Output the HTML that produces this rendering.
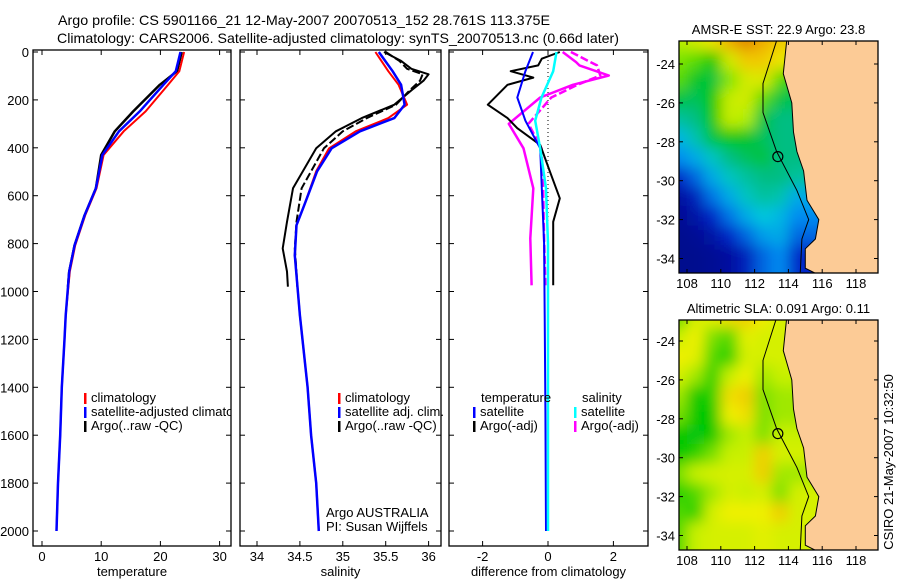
<!DOCTYPE html>
<html><head><meta charset="utf-8">
<style>
html,body{margin:0;padding:0;background:#fff;}
svg{display:block;font-family:"Liberation Sans",sans-serif;}
text{font-size:13px;fill:#000;}
</style></head>
<body>
<svg id="fig" width="900" height="580" viewBox="0 0 900 580" xmlns="http://www.w3.org/2000/svg">
<defs>
<filter id="blur1" x="600" y="-100" width="400" height="800" filterUnits="userSpaceOnUse"><feGaussianBlur stdDeviation="7"/></filter>
<clipPath id="clipMap1"><rect x="679" y="41" width="199" height="232"/></clipPath>
<clipPath id="clipMap2"><rect x="679" y="320" width="199" height="230"/></clipPath>
<clipPath id="clipP1"><rect x="33" y="50" width="198" height="496"/></clipPath>
</defs>
<text x="58" y="25" textLength="492" lengthAdjust="spacingAndGlyphs" style="font-size:14px">Argo profile: CS 5901166_21 12-May-2007 20070513_152 28.761S 113.375E</text>
<text x="57" y="43" textLength="562" lengthAdjust="spacingAndGlyphs" style="font-size:14px">Climatology: CARS2006. Satellite-adjusted climatology: synTS_20070513.nc (0.66d later)</text>
<g id="plots"></g>
<text transform="translate(893,462) rotate(-90)" text-anchor="middle" style="font-size:13px">CSIRO 21-May-2007 10:32:50</text>
</svg>
<script>
// ---------- data ----------
const depthTicks = [0,200,400,600,800,1000,1200,1400,1600,1800,2000];
const tempTicks = [0,10,20,30];
const salTicks = [34,34.5,35,35.5,36];
const diffTicks = [-2,0,2];

const tClimDepth = [0,80,137,248,331,430,569,682,807,917,1100,1200,1400,1600,1800,2000];
const tClim      = [24,23.2,21.3,17.5,13.8,10.4,9.2,7.3,5.6,4.7,4.0,3.8,3.35,3.07,2.7,2.45];
const tSat       = [23.4,22.6,20.5,16.5,13.0,10.2,9.1,7.2,5.5,4.6,4.0,3.8,3.35,3.07,2.7,2.45];
const tArgoDepth = [0,80,137,248,331,430,569,682,807,917,980];
const tArgo      = [23.6,22.8,19.9,15.4,12.3,10.0,9.1,7.2,5.5,4.6,4.4];

const sClimDepth = [0,80,137,220,276,331,402,498,640,723,849,1100,1400,1600,1800,2000];
const sClim      = [35.38,35.53,35.65,35.75,35.53,35.15,34.84,34.69,34.55,34.46,34.44,34.50,34.59,34.63,34.69,34.72];
const sSat       = [35.42,35.58,35.68,35.72,35.6,35.2,34.87,34.70,34.55,34.46,34.44,34.50,34.59,34.63,34.69,34.72];
const sArgoDepth = [0,37,70,93,120,160,220,276,331,402,569,709,820,917,980];
const sArgo      = [35.48,35.68,35.8,36.0,35.94,35.8,35.6,35.22,34.92,34.69,34.42,34.35,34.30,34.35,34.36];
const sArgoAdj   = [35.5,35.66,35.75,35.93,35.9,35.78,35.62,35.28,35.0,34.78,34.52,34.46,34.44,34.46,34.47];

const dTSatDepth = [0,80,190,287,402,569,800,1100,1500,2000];
const dTSat      = [-0.46,-0.69,-0.94,-0.69,-0.24,-0.19,-0.12,-0.1,-0.08,-0.06];
const dSSat      = [0.26,0.16,-0.2,-0.39,-0.24,-0.06,0.0,0.0,0.0,0.0];
const dTArgoDepth= [0,28,56,80,107,137,220,276,318,388,500,611,709,974];
const dTArgo     = [0.36,-0.19,-0.3,-1.14,-0.45,-1.24,-1.84,-1.24,-0.94,-0.24,0.06,0.36,0.16,0.16];
const dSArgoDepth= [0,42,56,98,137,190,300,402,569,778,974];
const dSArgo     = [0.45,0.86,0.96,1.86,0.76,-0.24,-1.2,-0.75,-0.45,-0.54,-0.5];
const dSArgoAdj  = [0.7,1.3,1.5,1.6,0.9,0.1,-0.6,-0.2,-0.15,-0.12,-0.08];

const mapLonTicks = [108,110,112,114,116,118];
const mapLatTicks = [-24,-26,-28,-30,-32,-34];
const sstGrid = [
 [0.65,0.7,0.75,0.85,0.92,0.85,0.8,0.8],
 [0.62,0.6,0.55,0.7,0.8,0.8,0.75,0.7],
 [0.6,0.52,0.5,0.62,0.7,0.72,0.6,0.55],
 [0.5,0.48,0.55,0.68,0.7,0.6,0.5,0.48],
 [0.42,0.45,0.55,0.68,0.65,0.5,0.45,0.45],
 [0.32,0.4,0.5,0.55,0.52,0.48,0.45,0.45],
 [0.25,0.3,0.38,0.45,0.48,0.5,0.45,0.45],
 [0.12,0.2,0.3,0.38,0.42,0.45,0.45,0.42],
 [0.05,0.1,0.22,0.3,0.38,0.42,0.4,0.3],
 [0.03,0.06,0.12,0.22,0.3,0.35,0.32,0.25],
 [0.02,0.03,0.06,0.12,0.2,0.28,0.3,0.2],
 [0.02,0.02,0.03,0.05,0.1,0.2,0.25,0.12]];
const slaGrid = [
 [0.4,0.6,0.65,0.75,0.8,0.7,0.6,0.6],
 [0.55,0.7,0.45,0.4,0.65,0.6,0.6,0.6],
 [0.7,0.65,0.4,0.35,0.6,0.6,0.6,0.6],
 [0.6,0.5,0.35,0.55,0.7,0.5,0.55,0.55],
 [0.5,0.3,0.35,0.75,0.8,0.45,0.5,0.5],
 [0.45,0.3,0.3,0.7,0.75,0.45,0.5,0.5],
 [0.3,0.25,0.3,0.5,0.55,0.45,0.55,0.55],
 [0.3,0.35,0.45,0.55,0.55,0.8,0.6,0.6],
 [0.45,0.55,0.6,0.6,0.6,0.8,0.5,0.5],
 [0.35,0.4,0.5,0.6,0.55,0.6,0.45,0.6],
 [0.4,0.35,0.6,0.7,0.7,0.7,0.8,0.6],
 [0.4,0.55,0.6,0.6,0.6,0.65,0.6,0.6]];
const coastLon = [113.9,113.7,114.2,114.3,114.5,114.9,115.1,115.8,115.6,115.0,115.0,115.7];
const coastLat = [-22.8,-24.5,-26,-27.5,-28.5,-29.5,-31,-32,-33,-33.5,-34.5,-34.8];
const isoLon = [113.3,112.5,112.5,113.3,114.5,115.2,114.8,114.7];
const isoLat = [-22.8,-25,-26.5,-28.5,-30.5,-32,-33,-34.8];
const floatLon = 113.375, floatLat = -28.761;

// ---------- helpers ----------
const NS = "http://www.w3.org/2000/svg";
const root = document.getElementById('plots');
function mk(tag, attrs, parent){const e=document.createElementNS(NS,tag);for(const k in attrs)e.setAttribute(k,attrs[k]);(parent||root).appendChild(e);return e;}

const yTop=50, yBot=546, y0=52, yPerM=0.2395;
const yD = d => y0 + d*yPerM;

function panel(name, x0, x1, xv0, xpx0, pxPerUnit, ticks, title, showDepth){
  const g = mk('g',{});
  
  
  const fx = v => xpx0 + (v - xv0)*pxPerUnit;
  const fr = mk('rect',{x:x0,y:yTop,width:x1-x0,height:yBot-yTop,fill:'none',stroke:'#000','stroke-width':1.3},g);
  
  
  ticks.forEach(t=>{
    const x=fx(t);
    mk('line',{x1:x,x2:x,y1:yBot,y2:yBot-5,stroke:'#000'},g);
    mk('line',{x1:x,x2:x,y1:yTop,y2:yTop+5,stroke:'#000'},g);
    const tl=mk('text',{x:x,y:yBot+15,'text-anchor':'middle'},g); tl.textContent=t;
    
    
  });
  depthTicks.forEach(d=>{
    const y=yD(d);
    mk('line',{x1:x0,x2:x0+5,y1:y,y2:y,stroke:'#000'},g);
    mk('line',{x1:x1,x2:x1-5,y1:y,y2:y,stroke:'#000'},g);
    if(showDepth){const tl=mk('text',{x:x0-4,y:y+5,'text-anchor':'end'},g); tl.textContent=d;
      
      }
  });
  const at=mk('text',{x:(x0+x1)/2,y:576,'text-anchor':'middle'},g); at.textContent=title;
  
  
  return {g,fx};
}
function series(p, vals, depths, color, w, nm, dash){
  const pts = vals.map((v,i)=>p.fx(v).toFixed(1)+','+yD(depths[i]).toFixed(1)).join(' ');
  const e = mk('polyline',{points:pts,fill:'none',stroke:color,'stroke-width':w,'stroke-linejoin':'round'},p.g);
  if(dash) e.setAttribute('stroke-dasharray',dash);
  
  
}
function legend(g, x, y, color, label, nm){
  mk('rect',{x:x,y:y-9,width:2.5,height:11,fill:color},g);
  const t=mk('text',{x:x+7,y:y},g); t.textContent=label;
  
  
}

// Panel 1 temperature
const p1 = panel('temperature-panel',33,231,0,42,5.92,tempTicks,'temperature',true);
series(p1,tArgo,tArgoDepth,'#000',2.5,'temp-argo-line');
series(p1,tClim,tClimDepth,'#f00',2,'temp-climatology-line');
series(p1,tSat,tClimDepth,'#00f',2.5,'temp-satellite-line');
const lg1 = mk('g',{'clip-path':'url(#clipP1)'},p1.g);
legend(lg1,84,402,'#f00','climatology','legend-climatology');
legend(lg1,84,416,'#00f','satellite-adjusted climatology','legend-satellite-adjusted');
legend(lg1,84,430,'#000','Argo(..raw -QC)','legend-argo');

// Panel 2 salinity
const p2 = panel('salinity-panel',240,441,34,257,85.8,salTicks,'salinity',false);
series(p2,sArgo,sArgoDepth,'#000',2,'sal-argo-line');
series(p2,sArgoAdj,sArgoDepth,'#000',2,'sal-argo-adj-line','8,3');
series(p2,sClim,sClimDepth,'#f00',2,'sal-climatology-line');
series(p2,sSat,sClimDepth,'#00f',2.5,'sal-satellite-line');
legend(p2.g,338,402,'#f00','climatology','legend-climatology-2');
legend(p2.g,338,416,'#00f','satellite adj. clim.','legend-satellite-2');
legend(p2.g,338,430,'#000','Argo(..raw -QC)','legend-argo-2');
const a1=mk('text',{x:326,y:517},p2.g); a1.textContent='Argo AUSTRALIA';


const a2=mk('text',{x:326,y:531},p2.g); a2.textContent='PI: Susan Wijffels';



// Panel 3 differences
const p3 = panel('difference-panel',449,648,0,548,32.7,diffTicks,'difference from climatology',false);
mk('line',{x1:p3.fx(0),x2:p3.fx(0),y1:yD(0),y2:yD(2000),stroke:'#000','stroke-dasharray':'1,3'},p3.g);
series(p3,dSArgo,dSArgoDepth,'#f0f',2.5,'diff-sal-argo-line');
series(p3,dSArgoAdj,dSArgoDepth,'#f0f',2.5,'diff-sal-argo-adj-line','8,3');
series(p3,dTArgo,dTArgoDepth,'#000',2,'diff-temp-argo-line');
series(p3,dTSat,dTSatDepth,'#00f',2,'diff-temp-satellite-line');
series(p3,dSSat,dTSatDepth,'#0ff',2.5,'diff-sal-satellite-line');
const lt=mk('text',{x:481,y:402},p3.g); lt.textContent='temperature';


const ls=mk('text',{x:582,y:402},p3.g); ls.textContent='salinity';


legend(p3.g,473,416,'#00f','satellite','legend-temp-satellite');
legend(p3.g,473,430,'#000','Argo(-adj)','legend-temp-argo');
legend(p3.g,574,416,'#0ff','satellite','legend-sal-satellite');
legend(p3.g,574,430,'#f0f','Argo(-adj)','legend-sal-argo');

// ---------- maps ----------
function lerpStops(stops, v){
  v=Math.max(0,Math.min(1,v));
  for(let i=1;i<stops.length;i++){ if(v<=stops[i][0]){const a=stops[i-1],b=stops[i];const t=(v-a[0])/(b[0]-a[0]||1);
    return 'rgb('+[1,2,3].map(k=>Math.round(a[k]+(b[k]-a[k])*t)).join(',')+')';}}
  const l=stops[stops.length-1]; return 'rgb('+l[1]+','+l[2]+','+l[3]+')';
}
const sstStops=[[0,0,0,130],[0.12,0,40,200],[0.25,0,140,240],[0.35,0,200,220],[0.45,0,190,130],[0.55,0,200,0],[0.65,180,240,0],[0.75,240,230,0],[0.87,240,160,0],[1,200,90,0]];
const slaStops=[[0,0,180,60],[0.3,0,200,0],[0.55,200,240,0],[0.7,240,240,0],[0.9,240,170,0],[1,230,140,0]];

function drawMap(name, grid, stops, top, bottom, latRef, clipId, title){
  const g=mk('g',{});
  
  
  const L=679,R=878, xPerDeg=16.9, yPerDeg=19.45;
  const fx = lon => 687 + (lon-108)*xPerDeg;
  const fy = lat => latRef + (-24-lat)*yPerDeg;
  const cg=mk('g',{'clip-path':'url(#'+clipId+')'},g);
  const blurG=mk('g',{filter:'url(#blur1)'},cg);
  for(let r=-2;r<grid.length+2;r++){
    const row=grid[Math.max(0,Math.min(grid.length-1,r))];
    for(let c=-2;c<13;c++){
      const v=row[Math.max(0,Math.min(c,row.length-1))];
      const lon0=107+c, lat0=-22.3-r;
      const cell=mk('rect',{x:fx(lon0),y:fy(lat0),width:xPerDeg+0.6,height:yPerDeg+0.6,fill:lerpStops(stops,v)},blurG);
      
      
    }
  }
  const landPts = coastLon.map((lon,i)=>fx(lon).toFixed(1)+','+fy(coastLat[i]).toFixed(1));
  landPts.push(fx(119.5)+','+fy(-35.5)); landPts.push(fx(119.5)+','+fy(-22));landPts.push(fx(113.9)+','+fy(-22));
  const land=mk('polygon',{points:landPts.join(' '),fill:'#fccb96',stroke:'#000','stroke-width':1},cg);
  
  
  const iso=mk('polyline',{points:isoLon.map((lon,i)=>fx(lon).toFixed(1)+','+fy(isoLat[i]).toFixed(1)).join(' '),fill:'none',stroke:'#000','stroke-width':1},cg);
  
  
  const fl=mk('circle',{cx:fx(floatLon),cy:fy(floatLat),r:5,fill:'none',stroke:'#000','stroke-width':1.2},cg);
  
  
  mk('rect',{x:L,y:top,width:R-L,height:bottom-top,fill:'none',stroke:'#000','stroke-width':1.3},g);
  mapLonTicks.forEach(t=>{const x=fx(t);
    mk('line',{x1:x,x2:x,y1:bottom,y2:bottom-4,stroke:'#000'},g);
    mk('line',{x1:x,x2:x,y1:top,y2:top+4,stroke:'#000'},g);
    const tl=mk('text',{x:x,y:bottom+15,'text-anchor':'middle'},g); tl.textContent=t;
    
    });
  mapLatTicks.forEach(t=>{const y=fy(t);
    mk('line',{x1:L,x2:L+4,y1:y,y2:y,stroke:'#000'},g);
    mk('line',{x1:R,x2:R-4,y1:y,y2:y,stroke:'#000'},g);
    const tl=mk('text',{x:L-4,y:y+5,'text-anchor':'end'},g); tl.textContent=t;
    
    });
  const tt=mk('text',{x:(L+R)/2,y:top-7,'text-anchor':'middle'},g); tt.textContent=title;
  
  
}
drawMap('sst-map',sstGrid,sstStops,41,273,64,'clipMap1','AMSR-E SST: 22.9 Argo: 23.8');
drawMap('sla-map',slaGrid,slaStops,320,550,341,'clipMap2','Altimetric SLA: 0.091 Argo: 0.11');
</script>
</body></html>
